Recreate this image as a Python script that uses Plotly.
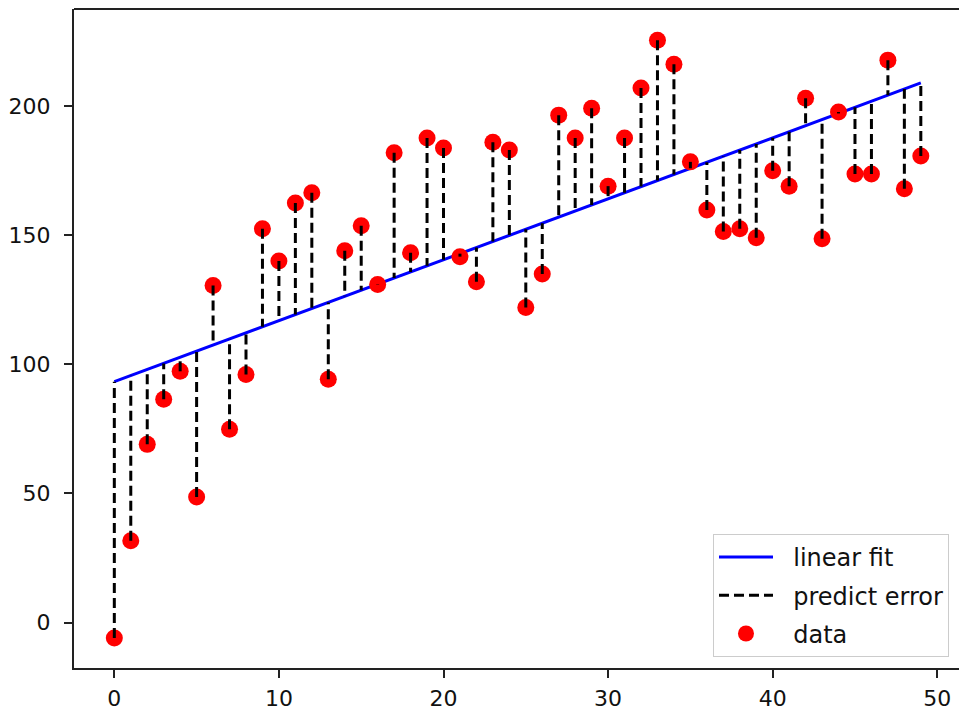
import numpy as np
import plotly.graph_objects as go

x_vals = list(range(50))
y_vals = [-6, 31.7, 69, 86.5, 97.3, 48.6, 130.5, 74.9, 96.1, 152.5,
          140, 162.5, 166.4, 94.2, 144, 153.7, 130.9, 181.9, 143.2, 187.6,
          183.8, 141.7, 132, 186, 183, 122, 135, 196.5, 187.6, 199.2,
          169, 187.6, 207, 225.5, 216.2, 178.4, 159.8, 151.4, 152.5, 149,
          175, 169, 203, 148.6, 197.7, 173.7, 173.7, 217.8, 168, 180.7]
x_ticks = [0, 10, 20, 30, 40, 50]
y_ticks = [0, 50, 100, 150, 200]
legend_names = ["linear fit", "predict error", "data"]

xa = np.array(x_vals, dtype=float)
ya = np.array(y_vals, dtype=float)
slope, intercept = np.polyfit(xa, ya, 1)
fit = slope * xa + intercept

ex, ey = [], []
for xi, yi, fi in zip(xa, ya, fit):
    ex += [xi, xi, None]
    ey += [yi, fi, None]

pad = "\u00a0\u00a0"
fig = go.Figure()
fig.add_trace(go.Scatter(x=xa, y=fit, mode="lines", name=pad + legend_names[0],
                         line=dict(color="#0000ff", width=3),
                         legendrank=1, legendgroup="a"))
fig.add_trace(go.Scatter(x=xa, y=ya, mode="markers", name=pad + legend_names[2],
                         marker=dict(color="#ff0000", size=17, line=dict(width=0)),
                         legendrank=3, legendgroup="c"))
fig.add_trace(go.Scatter(x=ex, y=ey, mode="lines", name=pad + legend_names[1],
                         line=dict(color="black", width=3, dash="10px,5px"),
                         legendrank=2, legendgroup="b"))

fig.update_layout(
    width=959, height=713,
    paper_bgcolor="white", plot_bgcolor="white",
    margin=dict(l=74, r=0, t=9, b=45, autoexpand=False),
    font=dict(family="DejaVu Sans", size=22, color="#111"),
    legend=dict(x=0.9887, y=0.0167, xanchor="right", yanchor="bottom",
                bgcolor="rgba(255,255,255,0.85)", bordercolor="#cccccc",
                borderwidth=1, font=dict(size=24), itemwidth=54,
                tracegroupgap=4),
    shapes=[dict(type="line", xref="paper", yref="paper", x0=0, x1=1, y0=1, y1=1,
                 line=dict(color="#222", width=2))],
)
fig.update_xaxes(range=[-2.45, 51.32], tickvals=x_ticks, showgrid=False,
                 zeroline=False, showline=True, linecolor="#222", linewidth=2,
                 ticks="outside", ticklen=8, tickwidth=2, tickcolor="#222",
                 automargin=False, ticklabelstandoff=2)
fig.update_yaxes(range=[-17.6, 237.6], tickvals=y_ticks, showgrid=False,
                 zeroline=False, showline=True, linecolor="#222", linewidth=2,
                 ticks="outside", ticklen=8, tickwidth=2, tickcolor="#222",
                 automargin=False, ticklabelstandoff=9)

fig.write_html("out.html", config={"displayModeBar": False},
               post_script="document.body.style.margin='0';document.body.style.padding='0';")
